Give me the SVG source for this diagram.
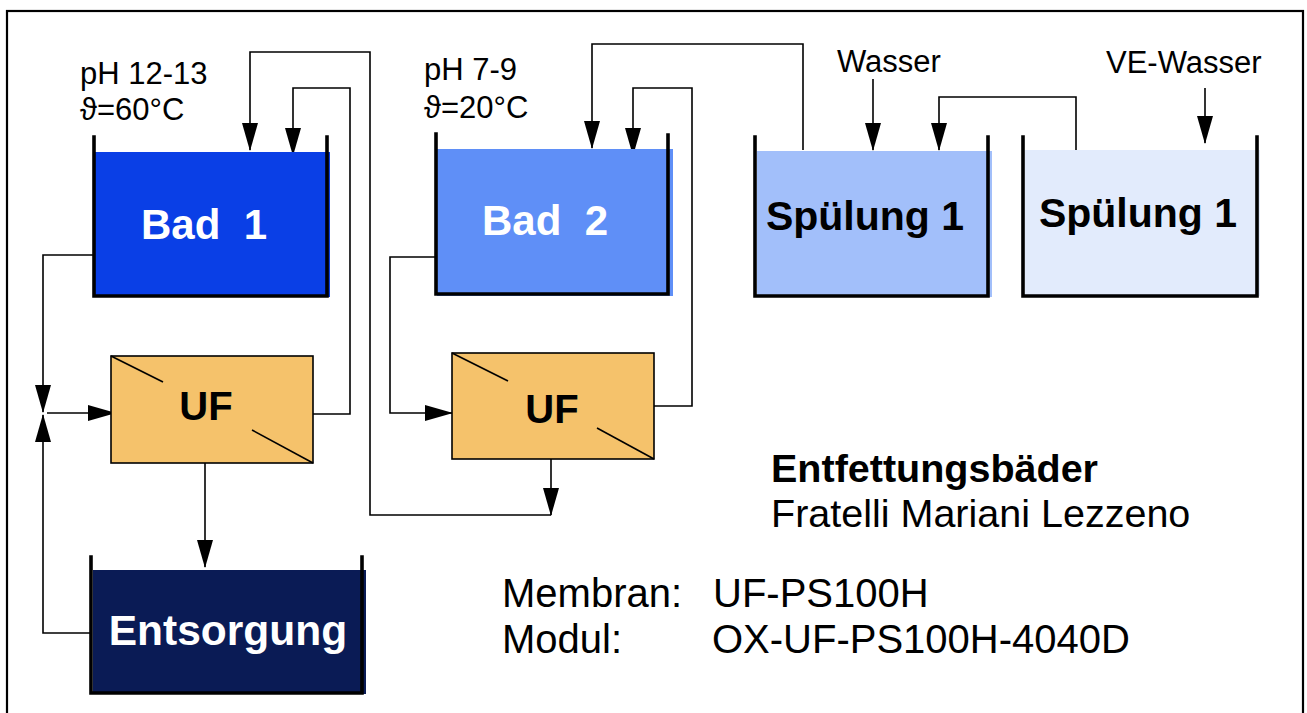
<svg xmlns="http://www.w3.org/2000/svg" width="1307" height="713" viewBox="0 0 1307 713">
<defs>
<style>
.frame{fill:none;stroke:#000;stroke-width:2.2}
.wall{fill:none;stroke:#000;stroke-width:3.6;stroke-linecap:square}
.uf{fill:#f5c26b;stroke:#000;stroke-width:1.6}
.diag{stroke:#000;stroke-width:1.6}
.c{fill:none;stroke:#000;stroke-width:1.6}
.ca{fill:none;stroke:#000;stroke-width:1.6;marker-end:url(#ah)}
.tw{font-family:"Liberation Sans",Arial,sans-serif;font-weight:bold;fill:#fff;text-anchor:middle;white-space:pre}
.tb{font-family:"Liberation Sans",Arial,sans-serif;font-weight:bold;fill:#000;text-anchor:middle;white-space:pre}
.t{font-family:"Liberation Sans",Arial,sans-serif;fill:#000}
</style>
<marker id="ah" viewBox="0 0 28 16" refX="27" refY="8" markerWidth="28" markerHeight="16" markerUnits="userSpaceOnUse" orient="auto">
<path d="M0,0 L28,8 L0,16 z" fill="#000"/>
</marker>
</defs>
<rect x="0" y="0" width="1307" height="713" fill="#fff"/>
<rect class="frame" x="7" y="11" width="1296" height="730"/>

<g id="connectors">
<polyline class="ca" points="94,255 43,255 43,412"/>
<polyline class="ca" points="91,633 43,633 43,415"/>
<polyline class="ca" points="47,413 115,413"/>
<polyline class="ca" points="205,463 205,567"/>
<polyline class="ca" points="313,414 350,414 350,88 293,88 293,155"/>
<polyline class="ca" points="551,459 551,515"/>
<polyline class="ca" points="551,515 370,515 370,52 250,52 250,150"/>
<polyline class="ca" points="436,257 390,257 390,413 452,413"/>
<polyline class="ca" points="654,406 692,406 692,88 633,88 633,155"/>
<polyline class="ca" points="803,150 803,44 592,44 592,148"/>
<polyline class="ca" points="873,79 873,150"/>
<polyline class="ca" points="1076,153 1076,97 939,97 939,150"/>
<polyline class="ca" points="1205,88 1205,143"/>
</g>

<g id="bad1">
<rect x="95" y="152" width="235" height="145" fill="#0a3fe6"/>
<path class="wall" d="M94,137 V296 H327 V137"/>
<text class="tw" x="204" y="239" font-size="42">Bad  1</text>
</g>
<g id="bad1-label">
<text class="t" x="80" y="84" font-size="31">pH 12-13</text>
<text class="t" x="80" y="120" font-size="31">ϑ=60°C</text>
</g>

<g id="bad2">
<rect x="437" y="149" width="236" height="147" fill="#5f8ff7"/>
<path class="wall" d="M436,134 V294 H668 V135"/>
<text class="tw" x="545" y="235" font-size="42">Bad  2</text>
</g>
<g id="bad2-label">
<text class="t" x="424" y="80" font-size="31">pH 7-9</text>
<text class="t" x="424" y="118" font-size="31">ϑ=20°C</text>
</g>

<g id="spuelung1">
<rect x="757" y="151" width="235" height="146" fill="#a2bffa"/>
<path class="wall" d="M755,137 V296 H988 V137"/>
<text class="tb" x="865" y="230" font-size="41">Spülung 1</text>
</g>

<g id="spuelung2">
<rect x="1025" y="150" width="235" height="146" fill="#e2ebfc"/>
<path class="wall" d="M1023,137 V296 H1257 V137"/>
<text class="tb" x="1138" y="227" font-size="41">Spülung 1</text>
</g>

<g id="wasser">
<text class="t" x="837" y="72" font-size="31">Wasser</text>
</g>
<g id="ve-wasser">
<text class="t" x="1106" y="73" font-size="31">VE-Wasser</text>
</g>

<g id="uf1">
<rect class="uf" x="111" y="356" width="202" height="107"/>
<line class="diag" x1="111" y1="356" x2="163" y2="382"/>
<line class="diag" x1="252" y1="430" x2="313" y2="463"/>
<text class="tb" x="206" y="420" font-size="40">UF</text>
</g>

<g id="uf2">
<rect class="uf" x="452" y="353" width="202" height="106"/>
<line class="diag" x1="452" y1="353" x2="508" y2="381"/>
<line class="diag" x1="597" y1="428" x2="654" y2="459"/>
<text class="tb" x="552" y="423" font-size="40">UF</text>
</g>

<g id="entsorgung">
<rect x="93" y="570" width="273" height="124" fill="#0a1b55"/>
<path class="wall" d="M91,557 V693 H362 V557"/>
<text class="tw" x="228" y="645" font-size="42.5">Entsorgung</text>
</g>

<g id="title">
<text class="t" x="771" y="482" font-size="39.5" font-weight="bold">Entfettungsbäder</text>
<text class="t" x="771" y="527" font-size="39.5">Fratelli Mariani Lezzeno</text>
</g>
<g id="specs">
<text class="t" x="502" y="607" font-size="40">Membran:</text>
<text class="t" x="713" y="607" font-size="40">UF-PS100H</text>
<text class="t" x="502" y="653" font-size="40">Modul:</text>
<text class="t" x="712" y="653" font-size="40">OX-UF-PS100H-4040D</text>
</g>
</svg>
